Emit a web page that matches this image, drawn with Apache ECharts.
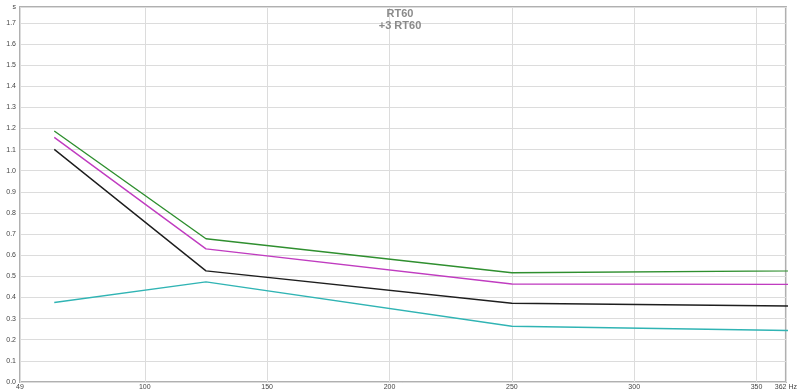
<!DOCTYPE html>
<html>
<head>
<meta charset="utf-8">
<script src="https://cdn.jsdelivr.net/npm/echarts@6/dist/echarts.min.js"></script>
<style>html,body{margin:0;padding:0;background:#fff}#c{width:800px;height:392px}</style>
</head>
<body>
<div id="c"></div>
<script>
var freqs = [63, 125, 250, 500];
var seriesGreen = [1.188, 0.678, 0.517, 0.537];
var seriesMagenta = [1.158, 0.630, 0.464, 0.460];
var seriesBlack = [1.101, 0.526, 0.373, 0.344];
var seriesCyan = [0.376, 0.474, 0.264, 0.219];
var xTickValues = [49, 100, 150, 200, 250, 300, 350, 362];
var titleLines = ['RT60', '+3 RT60'];

function pairs(vals) { return freqs.map(function (f, i) { return [f, vals[i]]; }); }

var chart = echarts.init(document.getElementById('c'));
function mk(name, data, color) {
  return { name: name, type: 'line', data: pairs(data), symbol: 'none', clip: true,
    lineStyle: { color: color, width: 1.4 }, itemStyle: { color: color }, animation: false };
}
chart.setOption({
  animation: false,
  backgroundColor: '#fff',
  title: [
    { text: titleLines[0], left: 'center', top: 3, textStyle: { fontSize: 11, fontWeight: 'bold', color: '#8a8a8a', fontFamily: 'Liberation Sans' } },
    { text: titleLines[1], left: 'center', top: 15, textStyle: { fontSize: 11, fontWeight: 'bold', color: '#8a8a8a', fontFamily: 'Liberation Sans' } }
  ],
  grid: { left: 20, right: 9, top: 7, bottom: 10, show: true, borderColor: '#b0b0b0', borderWidth: 2 },
  xAxis: {
    type: 'value', min: 49, max: 362,
    axisLine: { show: false },
    axisTick: { show: false, customValues: xTickValues },
    axisLabel: { customValues: xTickValues, fontSize: 7, color: '#444', margin: 2, fontFamily: 'Liberation Sans',
      formatter: function (v) { return v === 362 ? '362 Hz' : String(v); } },
    splitLine: { show: true, lineStyle: { color: '#dcdcdc', width: 1 } }
  },
  yAxis: {
    type: 'value', min: 0, max: 1.775, interval: 0.1,
    axisLine: { show: false },
    axisTick: { show: false },
    axisLabel: { fontSize: 7, color: '#444', margin: 4, fontFamily: 'Liberation Sans', showMaxLabel: true,
      formatter: function (v) { return v > 1.75 ? 's' : v.toFixed(1); } },
    splitLine: { show: true, lineStyle: { color: '#dcdcdc', width: 1 } }
  },
  series: [
    mk('green', seriesGreen, '#2f8f2f'),
    mk('magenta', seriesMagenta, '#c03cc0'),
    mk('black', seriesBlack, '#1e1e1e'),
    mk('cyan', seriesCyan, '#30b4b4')
  ]
});
</script>
</body>
</html>
